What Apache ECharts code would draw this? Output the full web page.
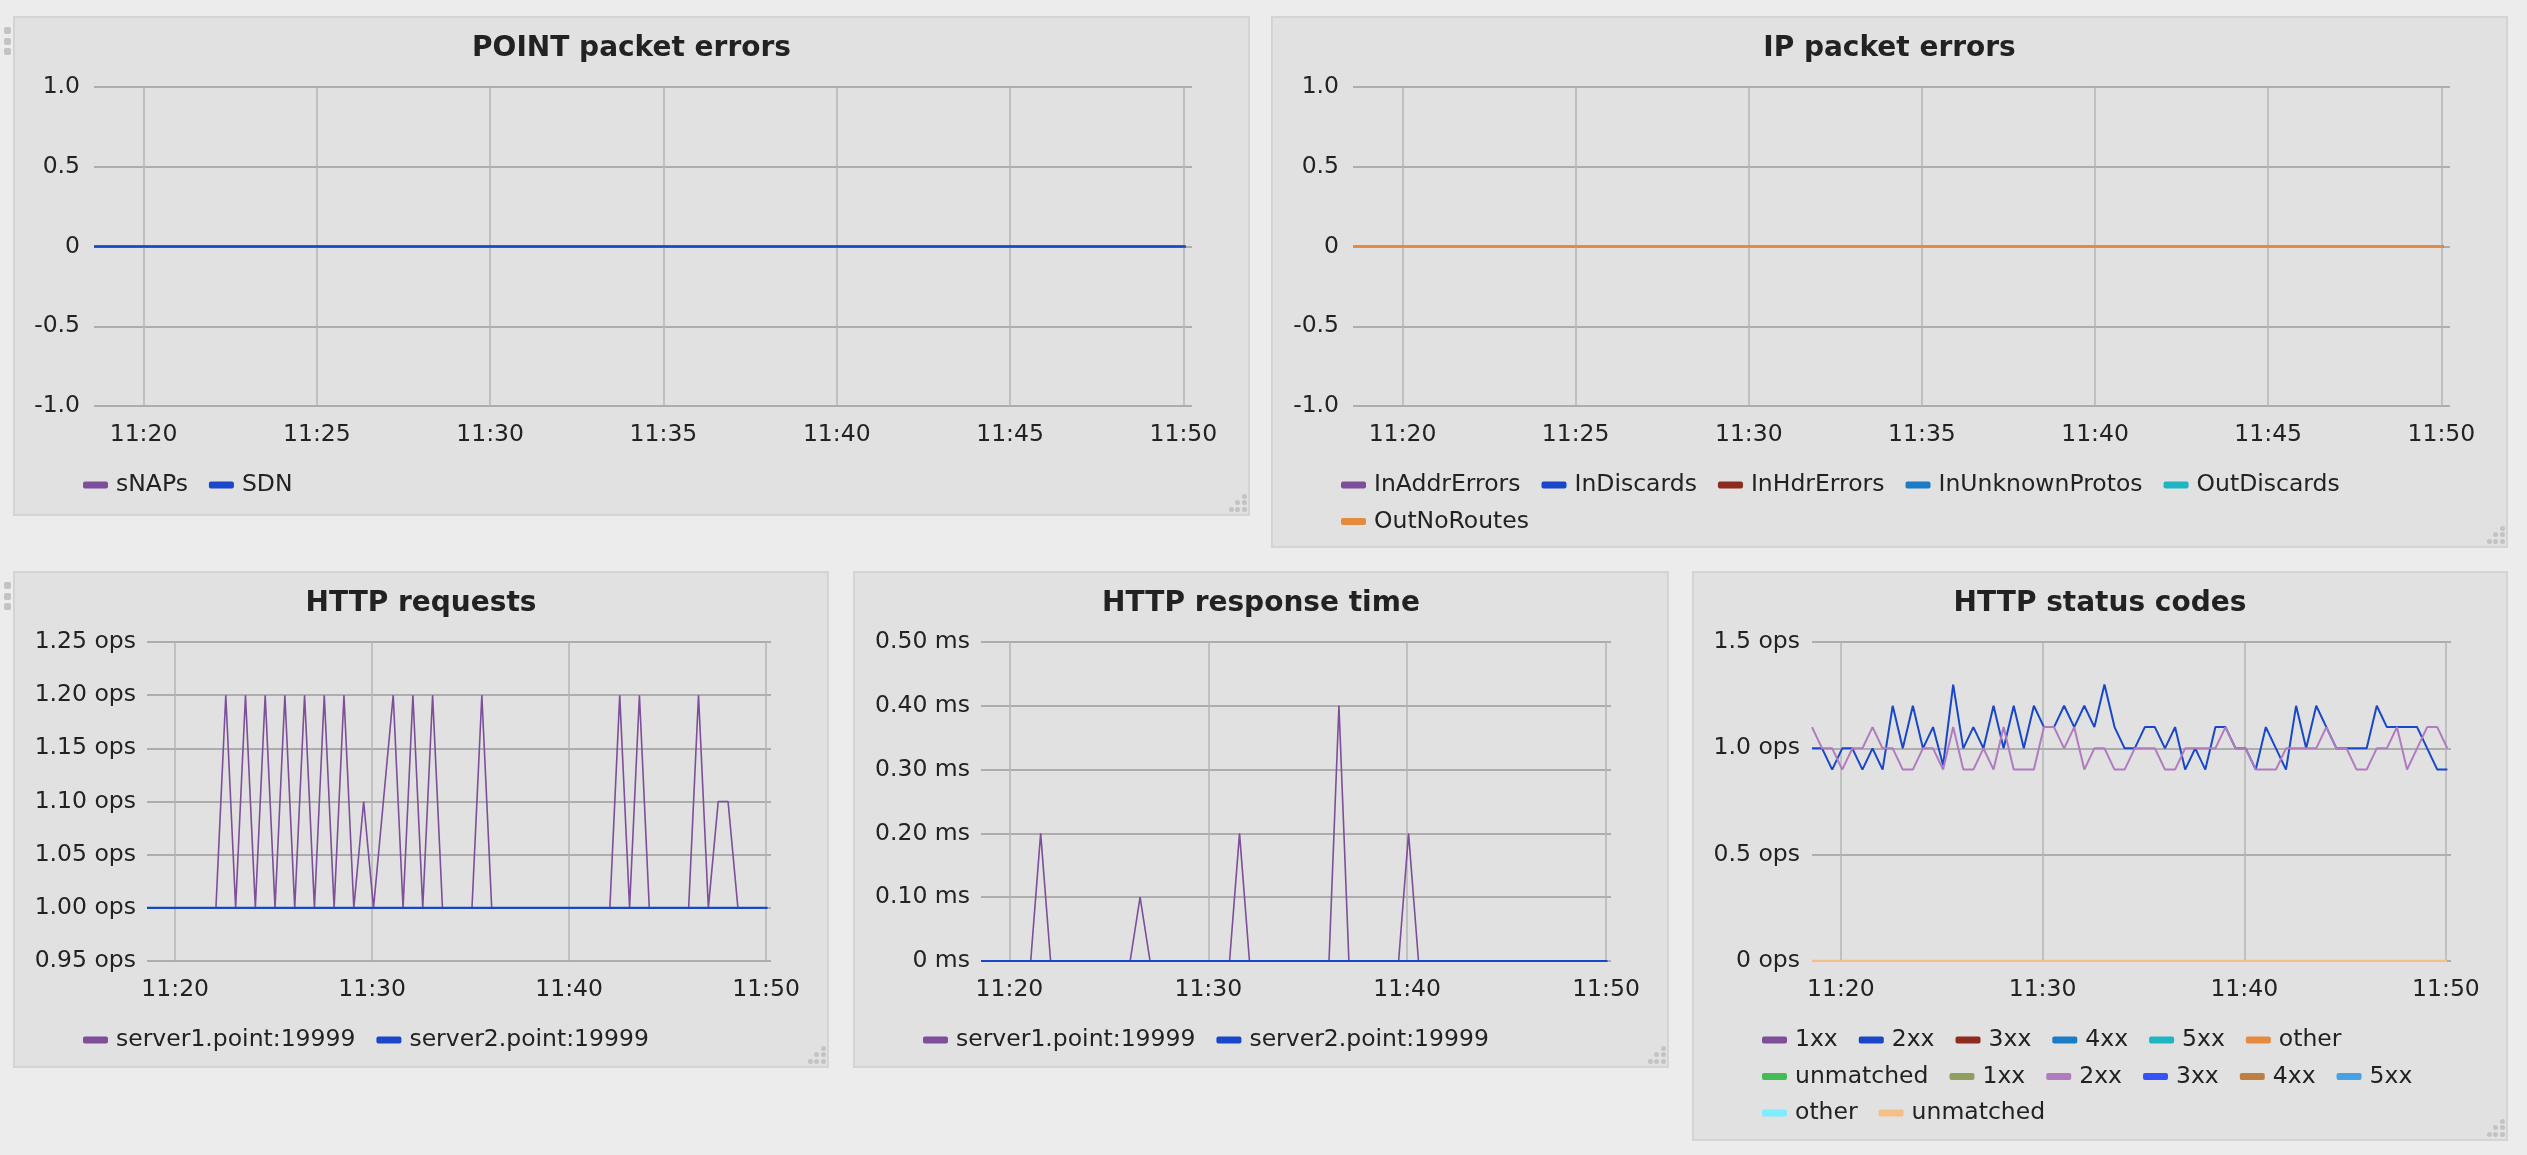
<!DOCTYPE html>
<html><head><meta charset="utf-8">
<script src="https://cdn.jsdelivr.net/npm/echarts@6/dist/echarts.min.js"></script>
<style>
html,body{margin:0;padding:0;background:#ececec;width:2527px;height:1155px;overflow:hidden;font-family:"DejaVu Sans",sans-serif;}
.panel{position:absolute;background:#e0e1e0;box-shadow:inset 0 0 0 2px #d4d4d4;}
.chart{position:absolute;left:0;top:0;width:100%;height:100%;}
.handle{position:absolute;left:4px;width:7px;height:7px;border-radius:2px;background:#c3c3c3;}
.dot{position:absolute;width:5px;height:5px;border-radius:50%;background:#c3c3c3;}
</style></head><body>
<div id="p1" class="panel" style="left:13px;top:16px;width:1237px;height:500px"><div class="chart" id="c1"></div></div>
<div id="p2" class="panel" style="left:1271px;top:16px;width:1237px;height:532px"><div class="chart" id="c2"></div></div>
<div id="p3" class="panel" style="left:13px;top:571px;width:816px;height:497px"><div class="chart" id="c3"></div></div>
<div id="p4" class="panel" style="left:853px;top:571px;width:816px;height:497px"><div class="chart" id="c4"></div></div>
<div id="p5" class="panel" style="left:1692px;top:571px;width:816px;height:570px"><div class="chart" id="c5"></div></div>
<div class="handle" style="top:27px"></div><div class="handle" style="top:38px"></div><div class="handle" style="top:48px"></div>
<div class="handle" style="top:582px"></div><div class="handle" style="top:593px"></div><div class="handle" style="top:603px"></div>
<script>
// ---- sample times (minutes past 11:00), one every 30 s ----
const TIMES = [18.57,19.07,19.57,20.07,20.57,21.07,21.57,22.07,22.57,23.07,
  23.57,24.07,24.57,25.07,25.57,26.07,26.57,27.07,27.57,28.07,
  28.57,29.07,29.57,30.07,30.57,31.07,31.57,32.07,32.57,33.07,
  33.57,34.07,34.57,35.07,35.57,36.07,36.57,37.07,37.57,38.07,
  38.57,39.07,39.57,40.07,40.57,41.07,41.57,42.07,42.57,43.07,
  43.57,44.07,44.57,45.07,45.57,46.07,46.57,47.07,47.57,48.07,
  48.57,49.07,49.57,50.07];
const X_MIN = 18.57, X_MAX = 50.25;
const X_TICKS_5 = [20,25,30,35,40,45,50];
const X_TICKS_10 = [20,30,40,50];

// flat series
const ZEROS = [0,0,0,0,0,0,0,0,0,0, 0,0,0,0,0,0,0,0,0,0, 0,0,0,0,0,0,0,0,0,0,
  0,0,0,0,0,0,0,0,0,0, 0,0,0,0,0,0,0,0,0,0, 0,0,0,0,0,0,0,0,0,0, 0,0,0,0];
const ONES = [1,1,1,1,1,1,1,1,1,1, 1,1,1,1,1,1,1,1,1,1, 1,1,1,1,1,1,1,1,1,1,
  1,1,1,1,1,1,1,1,1,1, 1,1,1,1,1,1,1,1,1,1, 1,1,1,1,1,1,1,1,1,1, 1,1,1,1];

// HTTP requests (ops)
const REQ_SERVER1 = [1.0,1.0,1.0,1.0,1.0,1.0,1.0,1.0,1.2,1.0,
  1.2,1.0,1.2,1.0,1.2,1.0,1.2,1.0,1.2,1.0,
  1.2,1.0,1.1,1.0,1.1,1.2,1.0,1.2,1.0,1.2,
  1.0,1.0,1.0,1.0,1.2,1.0,1.0,1.0,1.0,1.0,
  1.0,1.0,1.0,1.0,1.0,1.0,1.0,1.0,1.2,1.0,
  1.2,1.0,1.0,1.0,1.0,1.0,1.2,1.0,1.1,1.1,
  1.0,1.0,1.0,1.0];
const REQ_SERVER2 = ONES;

// HTTP response time (ms)
const RT_SERVER1 = [0,0,0,0,0,0,0.2,0,0,0,
  0,0,0,0,0,0,0.1,0,0,0,
  0,0,0,0,0,0,0.2,0,0,0,
  0,0,0,0,0,0,0.4,0,0,0,
  0,0,0,0.2,0,0,0,0,0,0,
  0,0,0,0,0,0,0,0,0,0,
  0,0,0,0];
const RT_SERVER2 = ZEROS;

// HTTP status codes (ops)
const SC_2XX_A = [1.0,1.0,0.9,1.0,1.0,0.9,1.0,0.9,1.2,1.0,
  1.2,1.0,1.1,0.92,1.3,1.0,1.1,1.0,1.2,1.0,
  1.2,1.0,1.2,1.1,1.1,1.2,1.1,1.2,1.1,1.3,
  1.1,1.0,1.0,1.1,1.1,1.0,1.1,0.9,1.0,0.9,
  1.1,1.1,1.0,1.0,0.9,1.1,1.0,0.9,1.2,1.0,
  1.2,1.1,1.0,1.0,1.0,1.0,1.2,1.1,1.1,1.1,
  1.1,1.0,0.9,0.9];
const SC_2XX_B = [1.1,1.0,1.0,0.9,1.0,1.0,1.1,1.0,1.0,0.9,
  0.9,1.0,1.0,0.9,1.1,0.9,0.9,1.0,0.9,1.1,
  0.9,0.9,0.9,1.1,1.1,1.0,1.1,0.9,1.0,1.0,
  0.9,0.9,1.0,1.0,1.0,0.9,0.9,1.0,1.0,1.0,
  1.0,1.1,1.0,1.0,0.9,0.9,0.9,1.0,1.0,1.0,
  1.0,1.1,1.0,1.0,0.9,0.9,1.0,1.0,1.1,0.9,
  1.0,1.1,1.1,1.0];

const POINT_NAMES = ['sNAPs','SDN'];
const IP_NAMES = ['InAddrErrors','InDiscards','InHdrErrors','InUnknownProtos','OutDiscards','OutNoRoutes'];
const SERVER_NAMES = ['server1.point:19999','server2.point:19999'];
const SC_NAMES = ['1xx','2xx','3xx','4xx','5xx','other','unmatched','B:1xx','B:2xx','B:3xx','B:4xx','B:5xx','B:other','B:unmatched'];

const C = {
  purple:'#7d4e99', blue:'#1a47c9', darkred:'#8d2b1f', blue2:'#1a7bc6', teal:'#1fb5c2',
  orange:'#e58b3f', green:'#44bb55', olive:'#8fa05e', lilac:'#b07bbf', blue3:'#3452f5',
  brown:'#bd8042', sky:'#45a2e6', cyan:'#7eeefe', peach:'#f5bf88'
};
const FONT = '"DejaVu Sans", sans-serif';
const TXT = '#222222';
const FS = 23.5;
// rounded legend swatch (25x7) with 3px of empty room on its right
const SWATCH = 'path://M2,0 L23,0 Q25,0 25,2 L25,5 Q25,7 23,7 L2,7 Q0,7 0,5 L0,2 Q0,0 2,0 Z M28,3.5';

function line(name, values, color, width) {
  return {
    type:'line', name, color, showSymbol:false, symbol:'none', animation:false,
    lineStyle:{width: width || 2, color}, itemStyle:{color},
    emphasis:{disabled:true},
    data: TIMES.map((t, i) => [t, values[i]])
  };
}

function build(el, cfg) {
  const chart = echarts.init(document.getElementById(el), null, {renderer:'canvas'});
  const legends = cfg.rows.map((row, r) => ({
    left:70, top:457 + r * 36.5, padding:0, orient:'horizontal',
    icon:SWATCH, itemWidth:28, itemHeight:7, itemGap:21,
    selectedMode:false,
    formatter: n => n.replace(/^B:/, ''),
    textStyle:{fontSize:FS, color:TXT, fontFamily:FONT},
    data: row
  }));
  chart.setOption({
    animation:false,
    backgroundColor:'transparent',
    title:{text:cfg.title, left:'center', top:19, padding:0,
      textStyle:{fontSize:28, fontWeight:'bold', color:TXT, fontFamily:FONT}},
    legend: legends,
    grid:{left:cfg.left, right:cfg.right, top:71, height:319, containLabel:false},
    xAxis:{type:'value', min:X_MIN, max:X_MAX,
      axisLine:{show:false}, axisTick:{show:false, customValues:cfg.xTicks},
      axisLabel:{customValues:cfg.xTicks, formatter: v => '11:' + v, margin:17,
        color:TXT, fontSize:FS, fontFamily:FONT},
      splitLine:{show:true, lineStyle:{color:'#b4b4b4', width:1.5}}},
    yAxis:{type:'value', min:cfg.yMin, max:cfg.yMax, interval:cfg.yInt,
      axisLine:{show:false}, axisTick:{show:false},
      axisLabel:{formatter:cfg.yFmt, margin:cfg.yMargin, color:TXT, fontSize:FS, fontFamily:FONT},
      splitLine:{show:true, lineStyle:{color:'#adadad', width:2}}},
    series: cfg.series
  });
}

build('c1', {title:'POINT packet errors', left:81, right:58, xTicks:X_TICKS_5,
  yMin:-1, yMax:1, yInt:0.5, yMargin:14, yFmt: v => v === 0 ? '0' : v.toFixed(1),
  rows:[POINT_NAMES],
  series:[line(POINT_NAMES[0], ZEROS, C.purple), line(POINT_NAMES[1], ZEROS, C.blue, 2.4)]});

build('c2', {title:'IP packet errors', left:82, right:58, xTicks:X_TICKS_5,
  yMin:-1, yMax:1, yInt:0.5, yMargin:14, yFmt: v => v === 0 ? '0' : v.toFixed(1),
  rows:[IP_NAMES.slice(0, 5), IP_NAMES.slice(5)],
  series:[line(IP_NAMES[0], ZEROS, C.purple), line(IP_NAMES[1], ZEROS, C.blue),
    line(IP_NAMES[2], ZEROS, C.darkred), line(IP_NAMES[3], ZEROS, C.blue2),
    line(IP_NAMES[4], ZEROS, C.teal), line(IP_NAMES[5], ZEROS, C.orange, 2.8)]});

build('c3', {title:'HTTP requests', left:134, right:58, xTicks:X_TICKS_10,
  yMin:0.95, yMax:1.25, yInt:0.05, yMargin:11, yFmt: v => v.toFixed(2) + ' ops',
  rows:[SERVER_NAMES],
  series:[line(SERVER_NAMES[0], REQ_SERVER1, C.purple, 1.6), line(SERVER_NAMES[1], REQ_SERVER2, C.blue, 2.2)]});

build('c4', {title:'HTTP response time', left:128, right:58, xTicks:X_TICKS_10,
  yMin:0, yMax:0.5, yInt:0.1, yMargin:11, yFmt: v => v === 0 ? '0 ms' : v.toFixed(2) + ' ms',
  rows:[SERVER_NAMES],
  series:[line(SERVER_NAMES[0], RT_SERVER1, C.purple, 1.6), line(SERVER_NAMES[1], RT_SERVER2, C.blue, 2.2)]});

build('c5', {title:'HTTP status codes', left:120, right:57, xTicks:X_TICKS_10,
  yMin:0, yMax:1.5, yInt:0.5, yMargin:12, yFmt: v => v === 0 ? '0 ops' : v.toFixed(1) + ' ops',
  rows:[SC_NAMES.slice(0, 6), SC_NAMES.slice(6, 12), SC_NAMES.slice(12)],
  series:[line(SC_NAMES[0], ZEROS, C.purple), line(SC_NAMES[1], SC_2XX_A, C.blue),
    line(SC_NAMES[2], ZEROS, C.darkred), line(SC_NAMES[3], ZEROS, C.blue2),
    line(SC_NAMES[4], ZEROS, C.teal), line(SC_NAMES[5], ZEROS, C.orange),
    line(SC_NAMES[6], ZEROS, C.green), line(SC_NAMES[7], ZEROS, C.olive),
    line(SC_NAMES[8], SC_2XX_B, C.lilac), line(SC_NAMES[9], ZEROS, C.blue3),
    line(SC_NAMES[10], ZEROS, C.brown), line(SC_NAMES[11], ZEROS, C.sky),
    line(SC_NAMES[12], ZEROS, C.cyan), line(SC_NAMES[13], ZEROS, C.peach, 2.6)]});

// resize grips (decoration) at each panel's bottom-right corner
['p1','p2','p3','p4','p5'].forEach(id => {
  const p = document.getElementById(id);
  for (let j = 0; j < 3; j++) for (let i = 0; i + j < 3; i++) {
    const d = document.createElement('div');
    d.className = 'dot';
    d.style.right = (3 + 6.7 * i) + 'px';
    d.style.bottom = (4 + 6.7 * j) + 'px';
    p.appendChild(d);
  }
});
</script>
</body></html>
